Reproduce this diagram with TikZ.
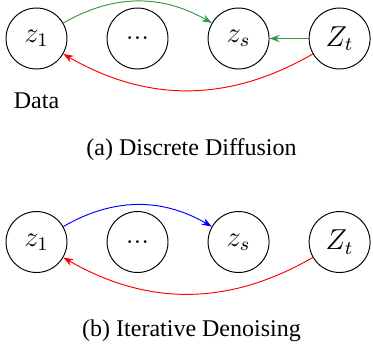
\documentclass[tikz,border=0pt]{standalone}
\usepackage{fontspec}
\setmainfont{Liberation Serif}
\usetikzlibrary{arrows.meta}
\usetikzlibrary{positioning}
\usepackage{xcolor}
\definecolor{fwdgreen}{HTML}{339944}

\begin{document}
\begin{tikzpicture}[
    x=0.41667pt, y=-0.41667pt,
    node distance=16.3pt,
    latent/.style={circle, draw, minimum size=25.4pt, font=\large},
    arrow/.style={-{Stealth[length=4.2pt, width=3pt]}},
  ]
    \useasboundingbox (0,0) rectangle (373,350);

    % (a) discrete diffusion
    \node[latent] (z1) at (36.5,38.5) {$z_1$};
    \node[latent, right=of z1] (dots) {$...$};
    \node[latent, right=of dots] (zs) {$z_s$};
    \node[latent, right=of zs] (zt) {$Z_t$};
    \node[below=6.3pt of z1] (data) {Data};

    \draw[arrow, fwdgreen] (z1.30) to[bend left=30] (zs.150);
    \draw[arrow, fwdgreen] (zt) -- (zs);
    \draw[arrow, red] (zt.210) to[bend left=30] (z1.-30);

    \node[anchor=base] (capa) at (191.5,155.5) {(a) Discrete Diffusion};

    % (b) iterative denoising
    \node[latent, below=59pt of z1] (z1b) {$z_1$};
    \node[latent, right=of z1b] (dotsb) {$...$};
    \node[latent, right=of dotsb] (zsb) {$z_s$};
    \node[latent, right=of zsb] (ztb) {$Z_t$};

    \draw[arrow, blue] (z1b.30) to[bend left=30] (zsb.150);
    \draw[arrow, red] (ztb.210) to[bend left=30] (z1b.-30);

    \node[anchor=base] (capb) at (191.5,336.5) {(b) Iterative Denoising};
\end{tikzpicture}
\end{document}
